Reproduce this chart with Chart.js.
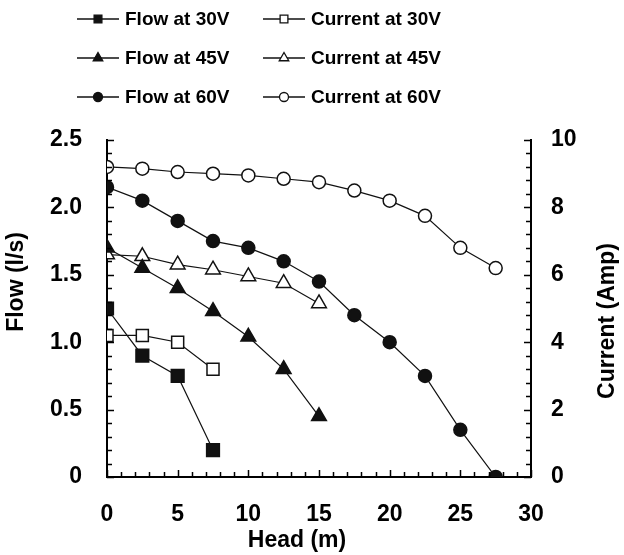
<!DOCTYPE html>
<html>
<head>
<meta charset="utf-8">
<script src="https://cdn.jsdelivr.net/npm/chart.js@4.4.1/dist/chart.umd.min.js"></script>
<style>
  body { margin: 0; background: #fff; }
  #wrap { width: 624px; height: 555px; }
</style>
</head>
<body>
<div id="wrap"><canvas id="pumpChart" width="624" height="555"></canvas></div>
<script>
// head (m) for each voltage
const head30 = [0, 2.5, 5, 7.5];
const head45 = [0, 2.5, 5, 7.5, 10, 12.5, 15];
const head60 = [0, 2.5, 5, 7.5, 10, 12.5, 15, 17.5, 20, 22.5, 25, 27.5];

// flow (l/s)
const flow30 = [1.25, 0.9, 0.75, 0.2];
const flow45 = [1.7, 1.55, 1.4, 1.23, 1.04, 0.8, 0.45];
const flow60 = [2.15, 2.05, 1.9, 1.75, 1.7, 1.6, 1.45, 1.2, 1.0, 0.75, 0.35, 0];

// current (Amp)
const current30 = [4.2, 4.2, 4.0, 3.2];
const current45 = [6.6, 6.55, 6.3, 6.15, 5.95, 5.75, 5.15];
const current60 = [9.2, 9.15, 9.05, 9.0, 8.95, 8.85, 8.75, 8.5, 8.2, 7.75, 6.8, 6.2];

const seriesLabels = ['Flow at 30V', 'Current at 30V', 'Flow at 45V', 'Current at 45V', 'Flow at 60V', 'Current at 60V'];
const axisTitles = { x: 'Head (m)', y: 'Flow (l/s)', y1: 'Current (Amp)' };

const FONT = 'Liberation Sans, Arial, sans-serif';
const INK = '#111';

function pts(xs, ys) {
  return xs.map((x, i) => ({ x: x, y: ys[i] }));
}

function series(label, xs, ys, axis, style, filled, radius) {
  return {
    label: label,
    data: pts(xs, ys),
    yAxisID: axis,
    borderColor: INK,
    borderWidth: 1.2,
    pointStyle: style,
    pointRadius: radius,
    pointHoverRadius: radius,
    pointBackgroundColor: filled ? INK : '#fff',
    pointBorderColor: INK,
    pointBorderWidth: 1.5,
    tension: 0,
    fill: false
  };
}

const datasets = [
  series(seriesLabels[0], head30, flow30, 'y', 'rect', true, 9),
  series(seriesLabels[1], head30, current30, 'y1', 'rect', false, 8.5),
  series(seriesLabels[2], head45, flow45, 'y', 'triangle', true, 8.5),
  series(seriesLabels[3], head45, current45, 'y1', 'triangle', false, 8.5),
  series(seriesLabels[4], head60, flow60, 'y', 'circle', true, 6.5),
  series(seriesLabels[5], head60, current60, 'y1', 'circle', false, 6.5)
];

// legend drawn as 2 columns x 3 rows, line with marker like the original
const gridLegend = {
  id: 'gridLegend',
  afterDraw(chart) {
    const ctx = chart.ctx;
    const cols = [77, 263];
    const rows = [19, 58, 97];
    ctx.save();
    chart.data.datasets.forEach((ds, i) => {
      const x0 = cols[i % 2];
      const y = rows[Math.floor(i / 2)];
      ctx.strokeStyle = INK;
      ctx.lineWidth = 1.5;
      ctx.beginPath();
      ctx.moveTo(x0, y);
      ctx.lineTo(x0 + 42, y);
      ctx.stroke();
      ctx.fillStyle = ds.pointBackgroundColor;
      ctx.lineWidth = 1.3;
      const r = ds.pointStyle === 'circle' ? 4.5 : 5.5;
      Chart.helpers.drawPoint(ctx, { pointStyle: ds.pointStyle, radius: r, rotation: 0, borderWidth: 1.3 }, x0 + 21, y);
      ctx.fillStyle = '#000';
      ctx.font = 'bold 19px ' + FONT;
      ctx.textBaseline = 'middle';
      ctx.textAlign = 'left';
      ctx.fillText(ds.label, x0 + 48, y + 1);
    });
    ctx.restore();
  }
};

// axis titles; both vertical ones read bottom-to-top as in the original
const axisTitlePlugin = {
  id: 'axisTitlePlugin',
  afterDraw(chart) {
    const ctx = chart.ctx;
    ctx.save();
    ctx.fillStyle = '#000';
    ctx.textAlign = 'center';
    ctx.textBaseline = 'middle';
    ctx.font = 'bold 23px ' + FONT;
    ctx.fillText(axisTitles.x, 297, 541);
    ctx.translate(17, 282);
    ctx.rotate(-Math.PI / 2);
    ctx.fillText(axisTitles.y, 0, 0);
    ctx.setTransform(1, 0, 0, 1, 0, 0);
    ctx.translate(608, 321);
    ctx.rotate(-Math.PI / 2);
    ctx.fillText(axisTitles.y1, 0, 0);
    ctx.restore();
  }
};

// inward minor / major tick marks on all three axes
const innerTicks = {
  id: 'innerTicks',
  afterDraw(chart) {
    const ctx = chart.ctx;
    const { x, y, y1 } = chart.scales;
    const area = chart.chartArea;
    ctx.save();
    ctx.strokeStyle = '#000';
    ctx.lineWidth = 1.5;
    ctx.beginPath();
    for (let v = 0; v <= 30; v += 1) {
      const px = Math.round(x.getPixelForValue(v)) + 0.5;
      const len = v % 5 === 0 ? 7 : 5;
      ctx.moveTo(px, area.bottom);
      ctx.lineTo(px, area.bottom - len);
    }
    for (let k = 0; k <= 25; k++) {
      const py = Math.round(y.getPixelForValue(k / 10)) + 0.5;
      const len = k % 5 === 0 ? 7 : 5;
      ctx.moveTo(area.left, py);
      ctx.lineTo(area.left + len, py);
    }
    for (let k = 0; k <= 25; k++) {
      const py = Math.round(y1.getPixelForValue(k * 0.4)) + 0.5;
      const len = k % 5 === 0 ? 7 : 5;
      ctx.moveTo(area.right, py);
      ctx.lineTo(area.right - len, py);
    }
    ctx.stroke();
    ctx.restore();
  }
};

new Chart(document.getElementById('pumpChart'), {
  type: 'line',
  data: { datasets: datasets },
  options: {
    responsive: false,
    animation: false,
    layout: { padding: { top: 140, left: 0, right: 0, bottom: 0 } },
    plugins: {
      legend: { display: false },
      tooltip: { enabled: false }
    },
    scales: {
      x: {
        type: 'linear',
        min: 0,
        max: 30,
        grid: { display: false, drawTicks: false },
        border: { display: true, color: '#000', width: 2 },
        ticks: {
          stepSize: 5,
          padding: 24,
          color: '#000',
          font: { family: FONT, size: 23, weight: 'bold' }
        },
        afterFit(scale) { scale.height = 78; }
      },
      y: {
        position: 'left',
        min: 0,
        max: 2.5,
        grid: { display: false, drawTicks: false },
        border: { display: true, color: '#000', width: 2 },
        ticks: {
          stepSize: 0.5,
          padding: 25,
          color: '#000',
          font: { family: FONT, size: 23, weight: 'bold' },
          callback: (v) => (v === 0 ? '0' : v.toFixed(1))
        },
        afterFit(scale) { scale.width = 107; }
      },
      y1: {
        position: 'right',
        min: 0,
        max: 10,
        grid: { display: false, drawTicks: false },
        border: { display: true, color: '#000', width: 2 },
        ticks: {
          stepSize: 2,
          padding: 20,
          color: '#000',
          font: { family: FONT, size: 23, weight: 'bold' }
        },
        afterFit(scale) { scale.width = 93; }
      }
    }
  },
  plugins: [innerTicks, gridLegend, axisTitlePlugin]
});
</script>
</body>
</html>
